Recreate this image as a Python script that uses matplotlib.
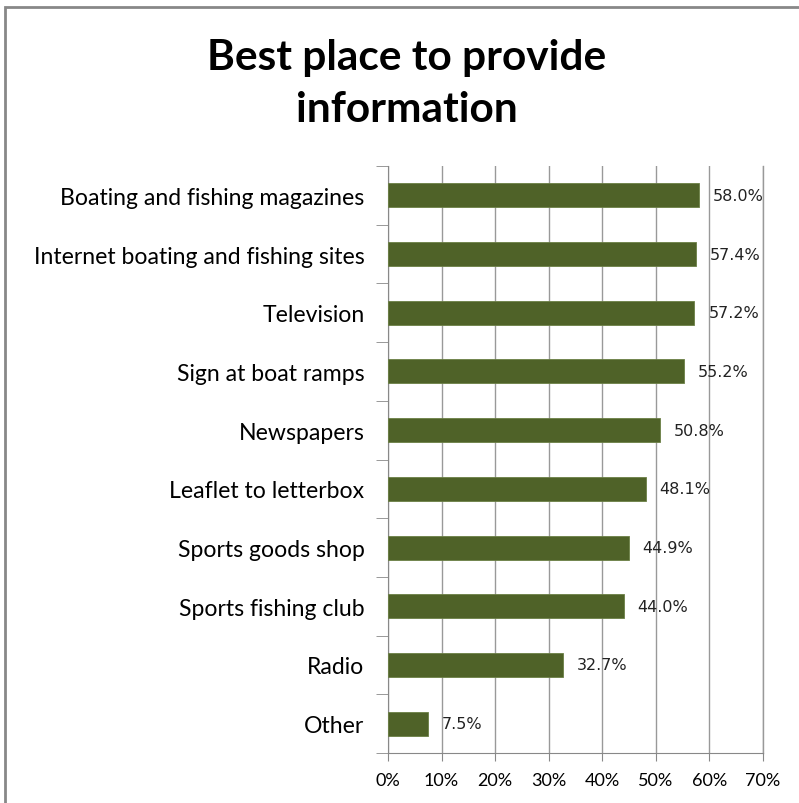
import numpy as np
import matplotlib.pyplot as plt
from matplotlib.patches import Rectangle

# survey answers, listed top to bottom
places = ["Boating and fishing magazines", "Internet boating and fishing sites",
          "Television", "Sign at boat ramps", "Newspapers", "Leaflet to letterbox",
          "Sports goods shop", "Sports fishing club", "Radio", "Other"]
pct = [58.0, 57.4, 57.2, 55.2, 50.8, 48.1, 44.9, 44.0, 32.7, 7.5]
xticks = [0, 10, 20, 30, 40, 50, 60, 70]

fig = plt.figure(figsize=(7.99, 8.04), dpi=100)
ax = fig.add_axes([388/799, 1-754/804, 375/799, (754-167)/804])

y = np.arange(len(places))
ax.barh(y, pct, height=0.41, color="#4F6228", edgecolor="#6b7f45", linewidth=0.6, zorder=3)
for yi, v in zip(y, pct):
    ax.text(v + 2.6, yi, "%.1f%%" % v, va="center", ha="left", fontsize=11.5,
            family="DejaVu Sans", color="#222222", zorder=4)

ax.set_ylim(len(places) - 0.5, -0.5)
ax.set_xlim(0, 70)
ax.set_xticks(xticks)
ax.set_xticklabels(["%d%%" % t for t in xticks], family="Lato", fontsize=13)
ax.set_yticks(y)
ax.set_yticklabels(places, family="Lato", fontsize=16.6)
ax.tick_params(axis="y", length=0, pad=17)
ax.tick_params(axis="x", length=6, color="#888888", pad=8)
# small ticks between categories
ax.set_yticks(np.arange(-0.5, len(places), 1), minor=True)
ax.tick_params(axis="y", which="minor", length=9, color="#888888")

ax.grid(axis="x", color="#999999", linewidth=1, zorder=0)
ax.axvline(70, color="#999999", linewidth=1, zorder=0, clip_on=False)
for s in ["top", "right"]:
    ax.spines[s].set_visible(False)
ax.spines["left"].set_color("#888888")
ax.spines["bottom"].set_color("#888888")

fig.text(407/799, 1-58/804, "Best place to provide", ha="center", va="center",
         fontsize=30.5, fontweight="bold", family="Lato")
fig.text(407/799, 1-110/804, "information", ha="center", va="center",
         fontsize=30.5, fontweight="bold", family="Lato")

# chart frame
fig.patches.append(Rectangle((5/799, -0.01), 1.0, 1-8/804 + 0.01, transform=fig.transFigure,
                             fill=False, edgecolor="#888888", linewidth=2))

fig.savefig("out.png", dpi=100)
